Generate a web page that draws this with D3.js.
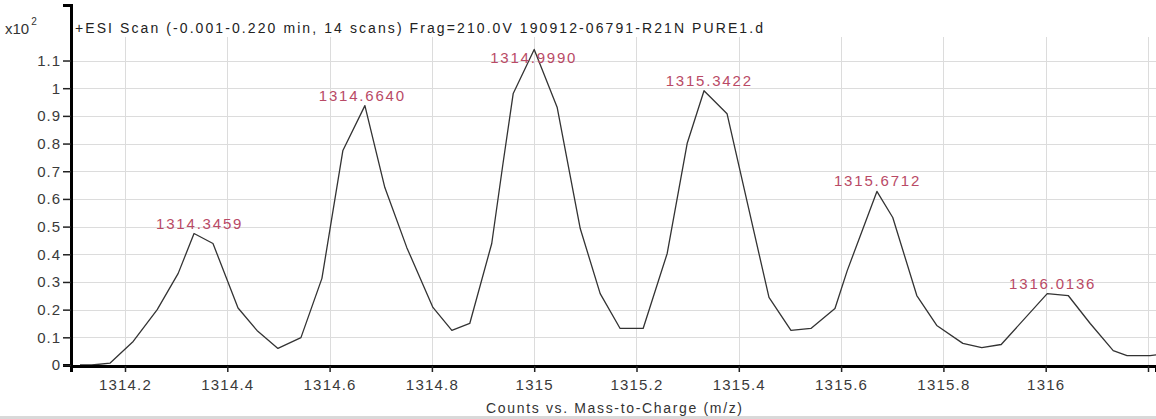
<!DOCTYPE html>
<html>
<head>
<meta charset="utf-8">
<script src="https://cdn.jsdelivr.net/npm/d3@7"></script>
<style>
  html, body { margin: 0; padding: 0; background: #fff; }
  svg { display: block; }
  text { font-family: "Liberation Sans", Arial, sans-serif; }
</style>
</head>
<body>
<svg id="chart" width="1156" height="419"></svg>
<script>
// Profile spectrum: m/z and counts (x10^2)
const mz = [
  1314.112, 1314.135, 1314.171, 1314.216, 1314.263, 1314.304, 1314.335, 1314.372,
  1314.421, 1314.458, 1314.499, 1314.544, 1314.585, 1314.626, 1314.669, 1314.708,
  1314.751, 1314.802, 1314.839, 1314.874, 1314.917, 1314.939, 1314.959, 1315.000,
  1315.045, 1315.090, 1315.129, 1315.168, 1315.213, 1315.260, 1315.299, 1315.332,
  1315.377, 1315.418, 1315.459, 1315.502, 1315.541, 1315.588, 1315.612, 1315.670,
  1315.701, 1315.748, 1315.787, 1315.838, 1315.875, 1315.913, 1316.003, 1316.044,
  1316.087, 1316.132, 1316.159, 1316.204, 1316.224
];
const counts = [
  0.000, 0.000, 0.007, 0.085, 0.200, 0.331, 0.475, 0.439,
  0.206, 0.125, 0.060, 0.099, 0.313, 0.775, 0.937, 0.641,
  0.424, 0.208, 0.125, 0.150, 0.439, 0.728, 0.981, 1.140,
  0.930, 0.493, 0.258, 0.132, 0.132, 0.403, 0.800, 0.991,
  0.908, 0.576, 0.244, 0.125, 0.132, 0.204, 0.341, 0.627,
  0.533, 0.251, 0.143, 0.078, 0.063, 0.074, 0.258, 0.251,
  0.150, 0.052, 0.034, 0.034, 0.038
];

// Labelled peaks
const peakMz = [1314.3459, 1314.6640, 1314.9990, 1315.3422, 1315.6712, 1316.0136];
const peakCounts = [0.475, 0.937, 1.140, 0.991, 0.627, 0.258];
const peakLabels = ["1314.3459", "1314.6640", "1314.9990", "1315.3422", "1315.6712", "1316.0136"];

// Axis ticks
const xTicks = [1314.2, 1314.4, 1314.6, 1314.8, 1315.0, 1315.2, 1315.4, 1315.6, 1315.8, 1316.0, 1316.2];
const xTickLabels = ["1314.2", "1314.4", "1314.6", "1314.8", "1315", "1315.2", "1315.4", "1315.6", "1315.8", "1316", ""];
const yTicks = [0, 0.1, 0.2, 0.3, 0.4, 0.5, 0.6, 0.7, 0.8, 0.9, 1.0, 1.1];
const yTickLabels = ["0", "0.1", "0.2", "0.3", "0.4", "0.5", "0.6", "0.7", "0.8", "0.9", "1", "1.1"];

const titleText = "+ESI Scan (-0.001-0.220 min, 14 scans) Frag=210.0V 190912-06791-R21N PURE1.d ";
const xAxisTitle = "Counts vs. Mass-to-Charge (m/z)";

const W = 1156, H = 419;
const plot = { left: 71, right: 1156, top: 5, bottom: 365 };

const svg = d3.select("#chart");

const x = d3.scaleLinear()
  .domain([1314.2 - (125 - plot.left) / 511.5, 1316.2 + (plot.right - 1148) / 511.5])
  .range([plot.left, plot.right]);
const y = d3.scaleLinear()
  .domain([0, (plot.bottom - plot.top) / 276.8])
  .range([plot.bottom, plot.top]);

// bottom status strip
svg.append("rect").attr("x", 0).attr("y", 416).attr("width", W).attr("height", 3).attr("fill", "#d9d9d9");

// grid
const grid = svg.append("g").attr("stroke", "#dcdcdc").attr("stroke-width", 1).attr("shape-rendering", "crispEdges");
grid.selectAll("line.h").data(yTicks.filter(d => d > 0)).join("line")
  .attr("class", "h")
  .attr("x1", plot.left).attr("x2", plot.right)
  .attr("y1", d => Math.round(y(d)) + 0.5).attr("y2", d => Math.round(y(d)) + 0.5);
grid.selectAll("line.v").data(xTicks).join("line")
  .attr("class", "v")
  .attr("y1", 37).attr("y2", plot.bottom)
  .attr("x1", d => Math.round(x(d)) + 0.5).attr("x2", d => Math.round(x(d)) + 0.5);

// spectrum trace
const line = d3.line().x((d, i) => x(mz[i])).y(d => y(d));
svg.append("path")
  .datum(counts)
  .attr("d", line)
  .attr("fill", "none")
  .attr("stroke", "#333")
  .attr("stroke-width", 1.3)
  .attr("stroke-linejoin", "round");

// x axis
const xAxis = d3.axisBottom(x)
  .tickValues(xTicks)
  .tickFormat((d, i) => xTickLabels[i])
  .tickSize(6)
  .tickPadding(7);
const gx = svg.append("g").attr("transform", `translate(0,${plot.bottom + 1})`).call(xAxis);
gx.select(".domain").attr("stroke", "#000").attr("stroke-width", 3);
gx.selectAll(".tick line").attr("stroke", "#222").attr("stroke-width", 1.5);
gx.selectAll(".tick text")
  .attr("fill", "#3a3a3a")
  .style("font-size", "15px")
  .style("letter-spacing", "1.2px");

// y axis
const yAxis = d3.axisLeft(y)
  .tickValues(yTicks)
  .tickFormat((d, i) => yTickLabels[i])
  .tickSize(8)
  .tickPadding(2);
const gy = svg.append("g").attr("transform", `translate(${plot.left},0)`).call(yAxis);
gy.select(".domain").attr("stroke", "#000").attr("stroke-width", 3);
gy.selectAll(".tick line").attr("stroke", "#222").attr("stroke-width", 1.5);
gy.selectAll(".tick text")
  .attr("fill", "#3a3a3a")
  .style("font-size", "15px")
  .style("letter-spacing", "1px");

// peak labels
svg.append("g").selectAll("text").data(peakMz).join("text")
  .attr("x", d => x(d))
  .attr("y", (d, i) => Math.max(y(peakCounts[i]) - 5, 63))
  .attr("text-anchor", "middle")
  .attr("fill", "#b94a66")
  .style("font-size", "15px")
  .style("letter-spacing", "1.8px")
  .text((d, i) => peakLabels[i]);

// exponent label
const ex = svg.append("text").attr("x", 5).attr("y", 34).attr("fill", "#333").style("font-size", "15px");
ex.append("tspan").text("x10");
ex.append("tspan").attr("dx", 2).attr("dy", -9).style("font-size", "10px").text("2");

// scan title
svg.append("text")
  .attr("x", 75).attr("y", 33)
  .attr("fill", "#222")
  .style("font-size", "14px")
  .attr("textLength", 688)
  .attr("lengthAdjust", "spacing")
  .text(titleText);

// x axis title
svg.append("text")
  .attr("x", 614).attr("y", 413)
  .attr("text-anchor", "middle")
  .attr("fill", "#333")
  .style("font-size", "14px")
  .attr("textLength", 256)
  .attr("lengthAdjust", "spacing")
  .text(xAxisTitle);
</script>
</body>
</html>
